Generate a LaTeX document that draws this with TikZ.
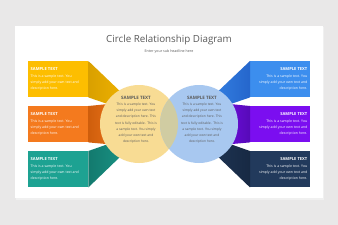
\documentclass[tikz,border=0pt]{standalone}
\usepackage{fontspec}
\setmainfont{Open Sans}
\definecolor{bgc}{HTML}{E9E8E8}
\definecolor{yel}{HTML}{FDBE00}
\definecolor{yeld}{HTML}{D9A000}
\definecolor{orn}{HTML}{F47A1E}
\definecolor{ornd}{HTML}{CF5E0C}
\definecolor{tea}{HTML}{1DA292}
\definecolor{tead}{HTML}{137A6E}
\definecolor{blu}{HTML}{3C8EEE}
\definecolor{blud}{HTML}{2566CC}
\definecolor{pur}{HTML}{7B0EF0}
\definecolor{purd}{HTML}{560AB8}
\definecolor{nav}{HTML}{223A5C}
\definecolor{navd}{HTML}{172943}
\definecolor{cyel}{HTML}{F8DC94}
\definecolor{cblu}{HTML}{A8C8F0}
\definecolor{cmix}{HTML}{D0CCA2}
\definecolor{txt}{HTML}{5A5A5A}
\begin{document}
\begin{tikzpicture}[x=1pt,y=-1pt,
  box/.style={minimum width=60pt, minimum height=36pt, inner sep=0pt, draw=none, anchor=north west},
  bttl/.style={font=\fontsize{4.1}{5}\selectfont\bfseries, text=white, inner sep=0pt},
  bbod/.style={font=\fontsize{3.5}{6}\selectfont, text=white, inner sep=0pt},
  circ/.style={circle, minimum size=78pt, inner sep=0pt, draw=none},
  cttl/.style={font=\fontsize{4.5}{5}\selectfont\bfseries, text=txt, inner sep=0pt},
  cbod/.style={font=\fontsize{3.3}{6.1}\selectfont, text=txt, inner sep=0pt, align=center}]
\useasboundingbox (0,0) rectangle (338,225);
\fill[bgc] (0,0) rectangle (338,225);
\fill[black!6] (16,27) rectangle (324,199.5);
\node[fill=white, minimum width=308pt, minimum height=172pt, inner sep=0pt, anchor=north west] (slide) at (15,26) {};
\node[font=\fontsize{9.8}{10}\selectfont, text=txt, inner sep=0pt] (title) at (169,40) {Circle Relationship Diagram};
\node[font=\fontsize{3.6}{4}\selectfont, text=txt, inner sep=0pt] (sub) at (169,52) {Enter your sub headline here};
% boxes
\node[box, fill=yel] (b1) at (28,61) {};
\node[box, fill=orn] (b2) at (28,106) {};
\node[box, fill=tea] (b3) at (28,151) {};
\node[box, fill=blu] (b4) at (250,61) {};
\node[box, fill=pur] (b5) at (250,106) {};
\node[box, fill=nav] (b6) at (250,151) {};
% connectors
\shade[left color=yeld, right color=yel] (b1.north east) -- (b1.south east) -- (148,118) -- cycle;
\shade[left color=ornd, right color=orn] (b2.north east) -- (b2.south east) -- (128,146) -- (128,102) -- cycle;
\shade[left color=tead, right color=tea] (b3.north east) -- (b3.south east) -- (148,130) -- cycle;
\shade[right color=blud, left color=blu] (b4.north west) -- (b4.south west) -- (190,118) -- cycle;
\shade[right color=purd, left color=pur] (b5.north west) -- (b5.south west) -- (210,146) -- (210,102) -- cycle;
\shade[right color=navd, left color=nav] (b6.north west) -- (b6.south west) -- (190,130) -- cycle;
% circles
\node[circ, fill=cyel] (c1) at (139,124) {};
\node[circ, fill=cblu] (c2) at (199,124) {};
\begin{scope}
\clip (c1.center) circle (39pt);
\fill[cmix] (c2.center) circle (39pt);
\end{scope}
% circle texts
\node[cttl] (ct1) at (136,97.5) {SAMPLE TEXT};
\node[cbod, anchor=north] (cb1) at (136,103) {This is a sample text. You\\simply add your own text\\and description here. This\\text is fully editable.\ \ This is\\a sample text. You simply\\add your own text and\\description here.};
\node[cttl] (ct2) at (202,97.5) {SAMPLE TEXT};
\node[cbod, anchor=north] (cb2) at (202,103) {This is a sample text. You\\simply add your own text\\and description here. This\\text is fully editable.\ \ This is\\a sample text. You simply\\add your own text and\\description here.};
% box texts
\node[bttl, anchor=west] (t1) at (30.5,69) {SAMPLE TEXT};
\node[bbod, anchor=north west, align=left] (d1) at (30.5,74.5) {This is a sample text. You\\simply add your own text and\\description here.};
\node[bttl, anchor=west] (t2) at (30.5,114) {SAMPLE TEXT};
\node[bbod, anchor=north west, align=left] (d2) at (30.5,119.5) {This is a sample text. You\\simply add your own text and\\description here.};
\node[bttl, anchor=west] (t3) at (30.5,159) {SAMPLE TEXT};
\node[bbod, anchor=north west, align=left] (d3) at (30.5,164.5) {This is a sample text. You\\simply add your own text and\\description here.};
\node[bttl, anchor=east] (t4) at (307.5,69) {SAMPLE TEXT};
\node[bbod, anchor=north east, align=right] (d4) at (307.5,74.5) {This is a sample text. You\\simply add your own text and\\description here.};
\node[bttl, anchor=east] (t5) at (307.5,114) {SAMPLE TEXT};
\node[bbod, anchor=north east, align=right] (d5) at (307.5,119.5) {This is a sample text. You\\simply add your own text and\\description here.};
\node[bttl, anchor=east] (t6) at (307.5,159) {SAMPLE TEXT};
\node[bbod, anchor=north east, align=right] (d6) at (307.5,164.5) {This is a sample text. You\\simply add your own text and\\description here.};
\end{tikzpicture}
\end{document}
